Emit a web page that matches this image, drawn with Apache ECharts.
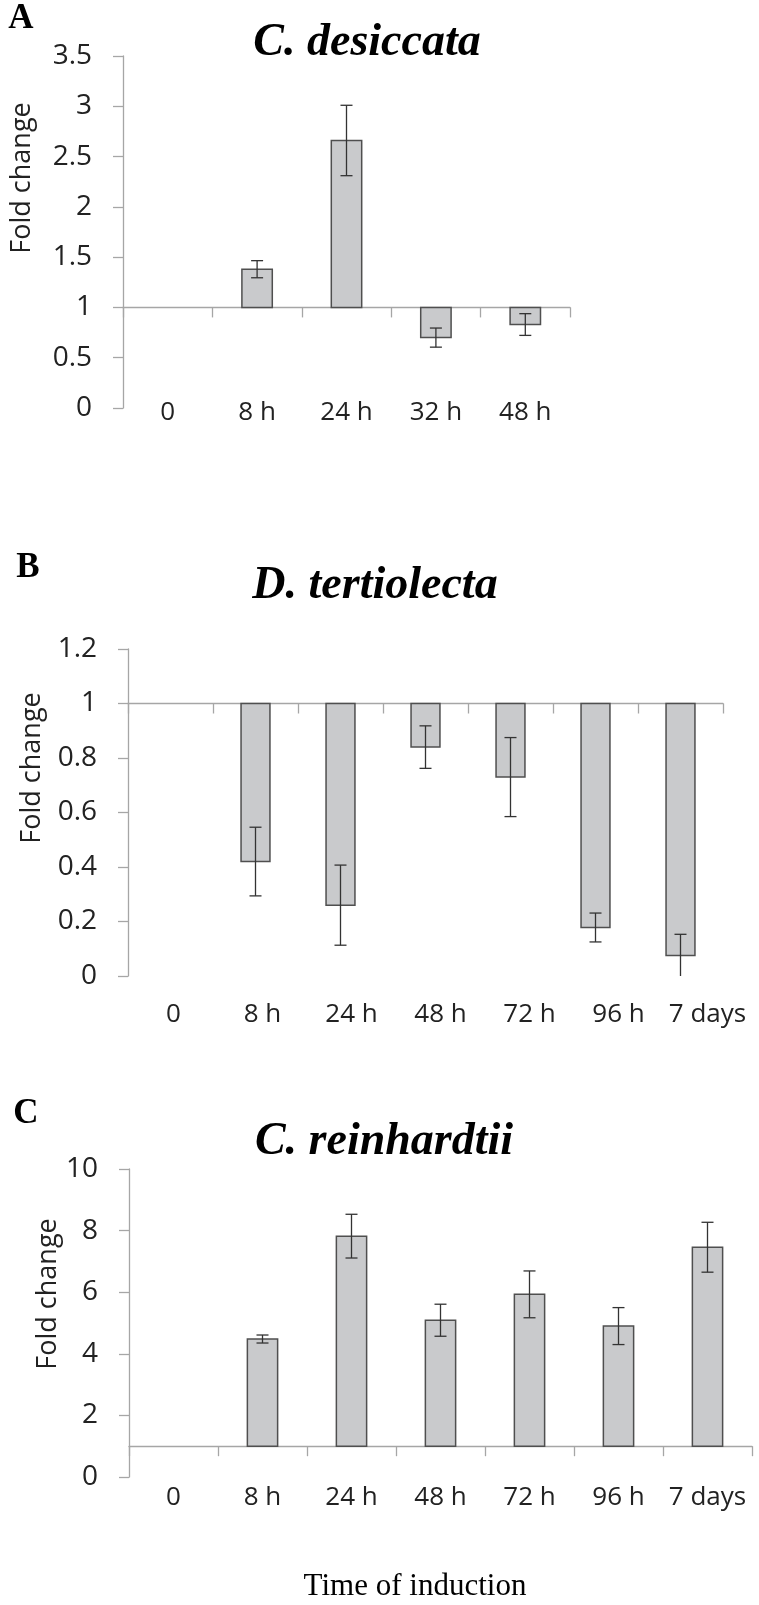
<!DOCTYPE html>
<html>
<head>
<meta charset="utf-8">
<script src="https://cdn.jsdelivr.net/npm/echarts@6/dist/echarts.min.js"></script>
<style>html,body{margin:0;padding:0;background:#fff}#c{width:759px;height:1605px}</style>
</head>
<body>
<div id="c"></div>
<script>
// ---- data ----
const catsA = ['0', '8 h', '24 h', '32 h', '48 h'];
const valsA = [1, 1.38, 2.66, 0.70, 0.83];
const errA  = [0, 0.085, 0.35, 0.095, 0.108];

const catsBC = ['0', '8 h', '24 h', '48 h', '72 h', '96 h', '7 days'];
const valsB = [1, 0.42, 0.26, 0.84, 0.73, 0.178, 0.075];
const errB  = [0, 0.126, 0.147, 0.078, 0.145, 0.053, 0.078];
const valsC = [1, 4.48, 7.82, 5.09, 5.93, 4.90, 7.46];
const errC  = [0, 0.13, 0.71, 0.52, 0.76, 0.60, 0.81];

const yTicksA = {min: 0, max: 3.5, interval: 0.5};
const yTicksB = {min: 0, max: 1.2, interval: 0.2};
const yTicksC = {min: 0, max: 10, interval: 2};
const baseline = 1;

// ---- layout ----
const grids = [
  {left: 123, top: 56, width: 447, height: 352},
  {left: 128, top: 649, width: 595, height: 327},
  {left: 129, top: 1169, width: 623, height: 308},
  {left: 129, top: 649, width: 623, height: 327} // label carrier for panel B
];
const ranges = [yTicksA, yTicksB, yTicksC, yTicksB];

const SANS = '"Open Sans", "Noto Sans", sans-serif';
const SERIF = '"Liberation Serif", "DejaVu Serif", serif';
const AXIS_GRAY = '#a6a6a6';

function baseOffset(g) {
  const r = ranges[g];
  return -grids[g].height * (baseline - r.min) / (r.max - r.min);
}

const labelMargins = [-8, 26, 8];

const xAxes = [];
const yAxes = [];
const cats = [catsA, catsBC, catsBC, catsBC];
for (let g = 0; g < 4; g++) {
  xAxes.push({
    type: 'category', gridIndex: g, data: cats[g], position: 'bottom',
    axisLine: {show: false}, axisTick: {show: false},
    axisLabel: {show: g !== 1, interval: 0, hideOverlap: false, fontFamily: SANS, fontSize: 26, color: '#222', lineHeight: 26,
      margin: g === 3 ? labelMargins[1] : labelMargins[g]}
  });
  yAxes.push({
    type: 'value', gridIndex: g, min: ranges[g].min, max: ranges[g].max, interval: ranges[g].interval,
    show: g !== 3,
    splitLine: {show: false},
    axisLine: {show: true, lineStyle: {color: AXIS_GRAY, width: 1.3}},
    axisTick: {show: true, length: 10, lineStyle: {color: AXIS_GRAY, width: 1.3}},
    axisLabel: {fontFamily: SANS, fontSize: 28, color: '#222', margin: 31}
  });
}
// baseline axes at value 1
for (let g = 0; g < 3; g++) {
  xAxes.push({
    type: 'category', gridIndex: g, data: cats[g], position: 'bottom',
    offset: baseOffset(g),
    axisLine: {show: true, lineStyle: {color: AXIS_GRAY, width: 1.3}},
    axisTick: {show: true, interval: 0, length: 10, lineStyle: {color: AXIS_GRAY, width: 1.3}},
    axisLabel: {show: false}
  });
}

function barItem(params, api) {
  const i = api.value(0), v = api.value(1);
  if (v === baseline) return null;
  const p1 = api.coord([i, baseline]);
  const p2 = api.coord([i, v]);
  const w = api.size([1, 0])[0] * 0.34;
  return {
    type: 'rect',
    shape: {x: p1[0] - w / 2, y: Math.min(p1[1], p2[1]), width: w, height: Math.abs(p2[1] - p1[1])},
    style: {fill: '#c9cacc', stroke: '#4f4f4f', lineWidth: 1.5}
  };
}
function errItem(params, api) {
  const i = api.value(0), v = api.value(1), e = api.value(2);
  if (!e) return null;
  const hi = api.coord([i, v + e]);
  const lo = api.coord([i, v - e]);
  const cap = 6;
  const st = {stroke: '#333', lineWidth: 1.3};
  return {
    type: 'group',
    children: [
      {type: 'line', shape: {x1: hi[0], y1: hi[1], x2: lo[0], y2: lo[1]}, style: st},
      {type: 'line', shape: {x1: hi[0] - cap, y1: hi[1], x2: hi[0] + cap, y2: hi[1]}, style: st},
      {type: 'line', shape: {x1: lo[0] - cap, y1: lo[1], x2: lo[0] + cap, y2: lo[1]}, style: st}
    ]
  };
}
function mk(vals, errs) {
  return vals.map((v, i) => [i, v, errs[i]]);
}
const panels = [[valsA, errA], [valsB, errB], [valsC, errC]];
const series = [];
panels.forEach((p, g) => {
  const d = mk(p[0], p[1]);
  series.push({type: 'custom', xAxisIndex: g, yAxisIndex: g, renderItem: barItem, data: d,
    encode: {x: 0, y: 1}, clip: true, silent: true, z: 2});
  series.push({type: 'custom', xAxisIndex: g, yAxisIndex: g, renderItem: errItem, data: d,
    encode: {x: 0, y: [1]}, clip: true, silent: true, z: 3});
});

function txt(x, y, text, font, extra) {
  return Object.assign({
    type: 'text', x: x, y: y,
    style: Object.assign({text: text, align: 'center', verticalAlign: 'middle', fill: '#000'}, font)
  }, extra || {});
}
const letterFont = {fontFamily: SERIF, fontWeight: 'bold', fontSize: 35};
const titleFont = {fontFamily: SERIF, fontWeight: 'bold', fontStyle: 'italic', fontSize: 46};
const nameFont = {fontFamily: SANS, fontSize: 27, fill: '#222'};
const graphic = [
  txt(21, 19, 'A', letterFont),
  txt(28, 568, 'B', letterFont),
  txt(26, 1114, 'C', letterFont),
  txt(367, 43, 'C. desiccata', titleFont),
  txt(375, 586, 'D. tertiolecta', titleFont),
  txt(384, 1142, 'C. reinhardtii', titleFont),
  txt(22, 178, 'Fold change', nameFont, {rotation: Math.PI / 2}),
  txt(32, 768, 'Fold change', nameFont, {rotation: Math.PI / 2}),
  txt(48, 1294, 'Fold change', nameFont, {rotation: Math.PI / 2}),
  txt(415, 1587, 'Time of induction', {fontFamily: SERIF, fontSize: 31})
];

const chart = echarts.init(document.getElementById('c'), null, {renderer: 'canvas'});
chart.setOption({
  backgroundColor: '#fff',
  animation: false,
  grid: grids.map(g => Object.assign({containLabel: false}, g)),
  xAxis: xAxes,
  yAxis: yAxes,
  series: series,
  graphic: graphic
});
</script>
</body>
</html>
